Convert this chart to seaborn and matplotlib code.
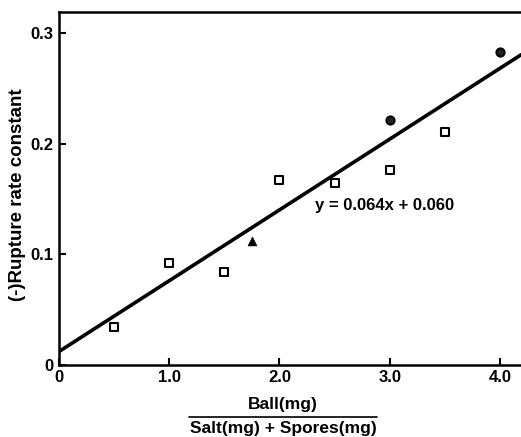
import pandas as pd
import matplotlib.pyplot as plt
import seaborn as sns
from matplotlib.lines import Line2D

# data
sq_x = [0.5, 1.0, 1.5, 2.0, 2.5, 3.0, 3.5]
sq_y = [0.034, 0.092, 0.084, 0.167, 0.164, 0.176, 0.210]
tri_x = [1.75]
tri_y = [0.112]
circ_x = [3.0, 4.0]
circ_y = [0.221, 0.283]

# drawn regression line
slope = 0.064
intercept = 0.012
eq_label = 'y = 0.064x + 0.060'

x_ticks = [0, 1.0, 2.0, 3.0, 4.0]
x_ticklabels = ['0', '1.0', '2.0', '3.0', '4.0']
y_ticks = [0, 0.1, 0.2, 0.3]
y_ticklabels = ['0', '0.1', '0.2', '0.3']

sns.set_style("ticks")
plt.rcParams['font.family'] = ['Liberation Sans', 'DejaVu Sans']
plt.rcParams['font.weight'] = 'bold'
plt.rcParams['text.color'] = 'black'
plt.rcParams['xtick.color'] = 'black'
plt.rcParams['ytick.color'] = 'black'

fig = plt.figure(figsize=(5.21, 4.37), dpi=100)
ax = fig.add_axes([0.113, 0.165, 0.887, 0.808])

ax.axline((0, intercept), slope=slope, color='black', lw=2.6, zorder=1)

df_sq = pd.DataFrame({'x': sq_x, 'y': sq_y})
df_tri = pd.DataFrame({'x': tri_x, 'y': tri_y})
df_circ = pd.DataFrame({'x': circ_x, 'y': circ_y})
sns.scatterplot(data=df_sq, x='x', y='y', marker='s', s=28, facecolor='white',
                edgecolor='black', linewidth=1.5, ax=ax, zorder=3)
sns.scatterplot(data=df_tri, x='x', y='y', marker='^', s=40, color='black',
                edgecolor='black', linewidth=0.5, ax=ax, zorder=3)
sns.scatterplot(data=df_circ, x='x', y='y', marker='o', s=34, facecolor='#222222',
                edgecolor='black', linewidth=1.5, ax=ax, zorder=3)

ax.set_xlim(0, 4.19)
ax.set_ylim(0, 0.319)
ax.set_xticks(x_ticks)
ax.set_xticklabels(x_ticklabels)
ax.set_yticks(y_ticks)
ax.set_yticklabels(y_ticklabels)
ax.tick_params(direction='in', length=5, width=1.5, labelsize=12, pad=4)
for lab in ax.get_xticklabels() + ax.get_yticklabels():
    lab.set_fontweight('bold')

ax.spines['right'].set_visible(False)
for s in ['left', 'bottom', 'top']:
    ax.spines[s].set_linewidth(1.8)
    ax.spines[s].set_color('black')

ax.set_xlabel('')
ax.set_ylabel('')
fig.text(18 / 521, 1 - 195 / 437, '(-)Rupture rate constant', fontsize=13.5,
         fontweight='bold', rotation=90, ha='center', va='center')

ax.text(2.32, 0.1436, eq_label, fontsize=12, fontweight='bold', ha='left', va='center')

# fraction style x label
fig.text(283 / 521, 1 - 405 / 437, 'Ball(mg)', fontsize=12.5, fontweight='bold',
         ha='center', va='center')
fig.text(283 / 521, 1 - 429 / 437, 'Salt(mg) + Spores(mg)', fontsize=12.5, fontweight='bold',
         ha='center', va='center')
fig.add_artist(Line2D([189 / 521, 377 / 521], [1 - 417 / 437, 1 - 417 / 437],
                      color='black', lw=1.2, transform=fig.transFigure))

fig.savefig('out.png', dpi=100)
